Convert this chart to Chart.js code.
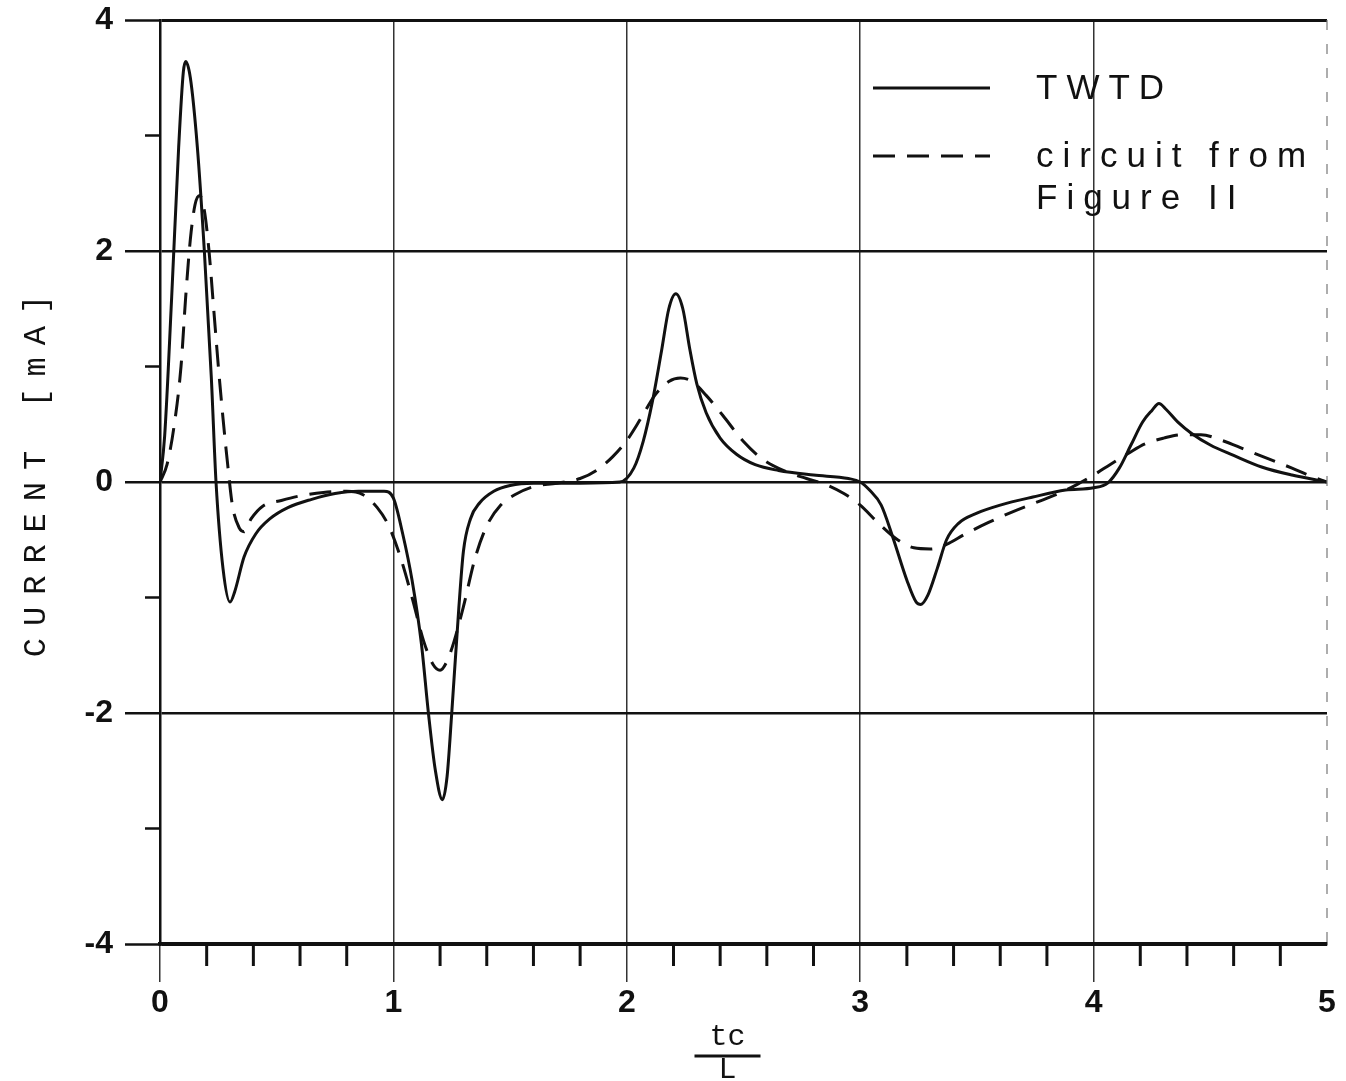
<!DOCTYPE html>
<html>
<head>
<meta charset="utf-8">
<script src="https://cdn.jsdelivr.net/npm/chart.js@4.4.1/dist/chart.umd.min.js"></script>
<style>
  html, body { margin: 0; padding: 0; background: #fff; }
  #wrap { width: 1346px; height: 1081px; }
</style>
</head>
<body>
<div id="wrap"><canvas id="currentChart" width="1346" height="1081"></canvas></div>
<script>
// TWTD (solid curve), tc/L vs current in mA
const twtdT = [0, 0.02, 0.05, 0.08, 0.1, 0.11, 0.13, 0.16, 0.19, 0.22, 0.24, 0.27, 0.3, 0.32, 0.36, 0.41, 0.47, 0.55, 0.65, 0.75, 0.85, 0.96,
  1.0, 1.04, 1.08, 1.12, 1.15, 1.18, 1.21, 1.23, 1.25, 1.28, 1.3, 1.33, 1.37, 1.43, 1.5, 1.6, 1.8, 1.97,
  2.03, 2.07, 2.11, 2.15, 2.18, 2.21, 2.24, 2.27, 2.3, 2.34, 2.4, 2.47, 2.55, 2.65, 2.8, 2.95,
  3.0, 3.04, 3.09, 3.14, 3.2, 3.24, 3.26, 3.29, 3.33, 3.37, 3.42, 3.5, 3.6, 3.74, 3.88,
  4.0, 4.06, 4.11, 4.16, 4.21, 4.25, 4.28, 4.31, 4.36, 4.42, 4.5, 4.6, 4.72, 4.85, 5.0];
const twtdCurrent = [0, 0.4, 1.6, 2.9, 3.55, 3.64, 3.5, 2.9, 2.0, 0.9, 0.0, -0.75, -1.04, -0.95, -0.65, -0.45, -0.32, -0.22, -0.15, -0.1, -0.08, -0.08,
  -0.14, -0.45, -0.85, -1.4, -2.0, -2.5, -2.75, -2.55, -2.0, -1.1, -0.6, -0.32, -0.18, -0.08, -0.03, -0.01, -0.01, 0.0,
  0.12, 0.35, 0.7, 1.15, 1.5, 1.63, 1.5, 1.15, 0.85, 0.6, 0.38, 0.24, 0.15, 0.1, 0.06, 0.03,
  0.0, -0.07, -0.2, -0.48, -0.85, -1.04, -1.06, -0.98, -0.75, -0.5, -0.36, -0.27, -0.2, -0.13, -0.07,
  -0.05, -0.01, 0.12, 0.32, 0.52, 0.62, 0.68, 0.63, 0.52, 0.42, 0.32, 0.23, 0.13, 0.06, 0.0];

// circuit from Figure II (dashed curve)
const circuitT = [0, 0.03, 0.06, 0.09, 0.11, 0.13, 0.15, 0.17, 0.19, 0.21, 0.23, 0.25, 0.27, 0.29, 0.31, 0.34, 0.36, 0.39, 0.44, 0.52, 0.6, 0.7, 0.8, 0.87, 0.93, 0.98,
  1.03, 1.08, 1.13, 1.17, 1.2, 1.23, 1.26, 1.3, 1.35, 1.4, 1.46, 1.52, 1.6, 1.7, 1.8, 1.87, 1.94,
  2.0, 2.06, 2.12, 2.18, 2.23, 2.28, 2.34, 2.41, 2.5, 2.58, 2.67, 2.77, 2.85, 2.93,
  3.0, 3.08, 3.16, 3.23, 3.3, 3.37, 3.45, 3.55, 3.65, 3.75, 3.85, 3.93,
  4.0, 4.07, 4.15, 4.22, 4.3, 4.38, 4.46, 4.55, 4.65, 4.75, 4.85, 4.93, 5.0];
const circuitCurrent = [0, 0.15, 0.48, 1.0, 1.6, 2.1, 2.4, 2.48, 2.35, 2.0, 1.5, 1.0, 0.55, 0.15, -0.2, -0.4, -0.43, -0.32, -0.21, -0.16, -0.12, -0.09, -0.08, -0.11, -0.22, -0.38,
  -0.65, -1.0, -1.38, -1.58, -1.63, -1.55, -1.38, -1.08, -0.66, -0.38, -0.2, -0.11, -0.04, -0.01, 0.03, 0.1, 0.22,
  0.36, 0.55, 0.75, 0.87, 0.9, 0.87, 0.75, 0.58, 0.35, 0.2, 0.1, 0.03, -0.02, -0.1,
  -0.2, -0.36, -0.5, -0.57, -0.58, -0.54, -0.45, -0.35, -0.26, -0.18, -0.1, -0.02,
  0.06, 0.15, 0.25, 0.33, 0.38, 0.41, 0.41, 0.36, 0.28, 0.2, 0.12, 0.05, 0.0];

const xMinorTicks = [0.2, 0.4, 0.6, 0.8, 1.2, 1.4, 1.6, 1.8, 2.2, 2.4, 2.6, 2.8, 3.2, 3.4, 3.6, 3.8, 4.2, 4.4, 4.6, 4.8];
const yMinorTicks = [-3, -1, 1, 3];
const legendLabels = [["TWTD"], ["circuit from", "Figure II"]];

const ink = "#111";

const toPoints = (xs, ys) => xs.map((v, i) => ({ x: v, y: ys[i] }));

// minor ticks, dashed right edge, axis titles and the in-plot legend
const extras = {
  id: "extras",
  afterDraw(chart) {
    const { ctx, chartArea: a, scales: { x, y } } = chart;
    ctx.save();
    ctx.strokeStyle = ink;
    ctx.lineWidth = 3;
    xMinorTicks.forEach((v) => {
      const px = x.getPixelForValue(v);
      ctx.beginPath();
      ctx.moveTo(px, a.bottom);
      ctx.lineTo(px, a.bottom + 22);
      ctx.stroke();
    });
    ctx.lineWidth = 2.5;
    yMinorTicks.forEach((v) => {
      const py = y.getPixelForValue(v);
      ctx.beginPath();
      ctx.moveTo(a.left, py);
      ctx.lineTo(a.left - 15, py);
      ctx.stroke();
    });

    // right edge at tc/L = 5 is a faint broken line
    ctx.strokeStyle = "#777";
    ctx.lineWidth = 1.2;
    ctx.setLineDash([10, 14]);
    ctx.beginPath();
    ctx.moveTo(a.right, a.top);
    ctx.lineTo(a.right, a.bottom);
    ctx.stroke();
    ctx.setLineDash([]);

    // y title
    ctx.fillStyle = ink;
    ctx.font = "32px 'Liberation Mono'";
    ctx.letterSpacing = "12px";
    ctx.textAlign = "center";
    ctx.textBaseline = "middle";
    ctx.save();
    ctx.translate(37, 476);
    ctx.rotate(-Math.PI / 2);
    ctx.fillText("CURRENT [mA]", 6, 0);
    ctx.restore();
    ctx.letterSpacing = "0px";

    // x title as a fraction tc / L
    const cx = (a.left + a.right) / 2 - 16;
    ctx.font = "30px 'Liberation Mono'";
    ctx.textBaseline = "alphabetic";
    ctx.fillText("tc", cx, 1045);
    ctx.lineWidth = 3;
    ctx.strokeStyle = ink;
    ctx.beginPath();
    ctx.moveTo(cx - 33, 1056);
    ctx.lineTo(cx + 33, 1056);
    ctx.stroke();
    ctx.fillText("L", cx, 1078);

    // legend
    const ds = chart.data.datasets;
    const rows = [88, 156];
    ctx.textAlign = "left";
    ctx.font = "35px 'Liberation Sans'";
    ctx.letterSpacing = "9px";
    ds.forEach((d, i) => {
      ctx.strokeStyle = d.borderColor;
      ctx.lineWidth = 3;
      ctx.setLineDash(d.borderDash || []);
      ctx.beginPath();
      ctx.moveTo(873, rows[i]);
      ctx.lineTo(990, rows[i]);
      ctx.stroke();
      ctx.setLineDash([]);
      legendLabels[i].forEach((t, j) => {
        ctx.fillText(t, 1036, rows[i] + 11 + j * 42);
      });
    });
    ctx.restore();
  }
};

new Chart(document.getElementById("currentChart"), {
  type: "line",
  data: {
    datasets: [
      {
        label: "TWTD",
        data: toPoints(twtdT, twtdCurrent),
        borderColor: ink,
        borderWidth: 3,
        pointRadius: 0,
        cubicInterpolationMode: "monotone",
        fill: false
      },
      {
        label: "circuit from Figure II",
        data: toPoints(circuitT, circuitCurrent),
        borderColor: ink,
        borderWidth: 3,
        borderDash: [22, 12],
        pointRadius: 0,
        cubicInterpolationMode: "monotone",
        fill: false
      }
    ]
  },
  options: {
    responsive: false,
    devicePixelRatio: 1,
    animation: false,
    layout: { padding: { top: 20, right: 19, left: 0, bottom: 0 } },
    plugins: {
      legend: { display: false },
      tooltip: { enabled: false }
    },
    scales: {
      x: {
        type: "linear",
        min: 0,
        max: 5,
        afterFit: (s) => { s.height = 137; s.paddingLeft = 0; s.paddingRight = 0; },
        ticks: {
          stepSize: 1,
          color: ink,
          padding: 2,
          font: { family: "'Liberation Sans'", size: 32, weight: "bold" }
        },
        grid: {
          color: (c) => (c.tick && c.tick.value === 5 ? "rgba(0,0,0,0)" : "#333"),
          lineWidth: 1.5,
          tickLength: 38,
          tickWidth: 1.5,
          tickColor: (c) => (c.tick && c.tick.value === 5 ? "rgba(0,0,0,0)" : "#333")
        },
        border: { color: ink, width: 3.5 }
      },
      y: {
        min: -4,
        max: 4,
        afterFit: (s) => { s.width = 160; s.paddingTop = 0; s.paddingBottom = 0; },
        ticks: {
          stepSize: 2,
          color: ink,
          padding: 12,
          font: { family: "'Liberation Sans'", size: 32, weight: "bold" }
        },
        grid: {
          color: ink,
          lineWidth: (c) => (c.tick && Math.abs(c.tick.value) === 4 ? 3 : 2.5),
          tickLength: 35,
          tickWidth: 2.5,
          tickColor: ink
        },
        border: { color: ink, width: 2.5 }
      }
    }
  },
  plugins: [extras]
});
</script>
</body>
</html>
